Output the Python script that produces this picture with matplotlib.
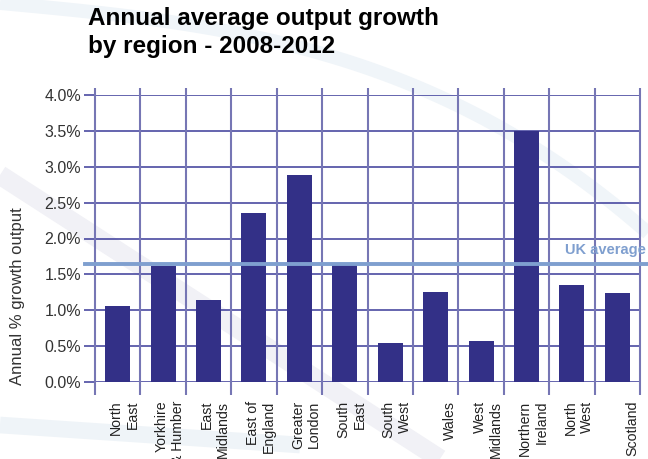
import numpy as np
import matplotlib.pyplot as plt

plt.rcParams['font.family'] = ['Liberation Sans', 'DejaVu Sans']

# Data
regions = ["North\nEast", "Yorkhire\n& Humber", "East\nMidlands", "East of\nEngland",
           "Greater\nLondon", "South\nEast", "South\nWest", "Wales", "West\nMidlands",
           "Northern\nIreland", "North\nWest", "Scotland"]
growth = [1.06, 1.62, 1.14, 2.36, 2.88, 1.63, 0.54, 1.25, 0.57, 3.50, 1.35, 1.24]
uk_average = 1.64
yticks = [0.0, 0.5, 1.0, 1.5, 2.0, 2.5, 3.0, 3.5, 4.0]

bar_col = '#333087'
grid_col = '#3a3a99'
vline_col = '#7676b4'
uk_col = '#7f9fcf'

fig = plt.figure(figsize=(6.48, 4.59), dpi=100)

# faint decorative swooshes in the background (pixel coords)
bg = fig.add_axes([0, 0, 1, 1], zorder=-1)
bg.set_xlim(0, 648)
bg.set_ylim(459, 0)
bg.axis('off')
t = np.linspace(0, 1, 100)
bg.plot(648 * t, 3 + 60 * t + 170 * t ** 3, color='#f0f5f9', lw=10, solid_capstyle='butt')
bg.plot(440 * t, 175 + 284 * t, color='#f1f1f6', lw=14, solid_capstyle='butt')
bg.plot(300 * t, 425 + 20 * t, color='#eff4f8', lw=12, solid_capstyle='butt')

ax = fig.add_axes([95/648, 1-382/459, 545/648, 287/459])
ax.patch.set_alpha(0)

x = np.arange(len(regions))
ax.bar(x, growth, width=0.55, color=bar_col, zorder=3)

# grid
for v in yticks:
    ax.axhline(v, color=grid_col, lw=1.1, zorder=2)
ax.vlines(np.arange(len(regions) + 1) - 0.5, -0.18, 4.1, color=vline_col, lw=1.5,
          zorder=2, clip_on=False)

# UK average line
ax.plot([-0.72, 12.2], [uk_average, uk_average], color=uk_col, lw=2.8, zorder=4, clip_on=False)
fig.text(646/648, 1-250/459, "UK average", color=uk_col, fontsize=10.5, fontweight='bold',
         ha='right', va='center')

ax.set_xlim(-0.5, len(regions) - 0.5)
ax.set_ylim(0, 4.0)
ax.set_yticks(yticks)
ax.set_yticklabels([f"{v:.1f}%" for v in yticks], fontsize=11.5, color='#333333')
ax.tick_params(axis='y', length=8, color=grid_col, width=1.1, pad=2)
ax.set_xticks([])
for s in ax.spines.values():
    s.set_visible(False)

for i, lab in enumerate(regions):
    ax.text(i + 0.48, -0.26, lab, rotation=90, ha='right', va='top', multialignment='right',
            fontsize=10.2, color='#222222', clip_on=False, linespacing=1.2)

fig.text(18/648, 1-296/459, "Annual % growth output", rotation=90, ha='center', va='center',
         fontsize=12, color='#333333')

fig.text(88/648, 1-7/459, "Annual average output growth\nby region - 2008-2012",
         fontsize=17.5, fontweight='bold', ha='left', va='top', linespacing=1.3)

fig.savefig('out.png', dpi=100)
